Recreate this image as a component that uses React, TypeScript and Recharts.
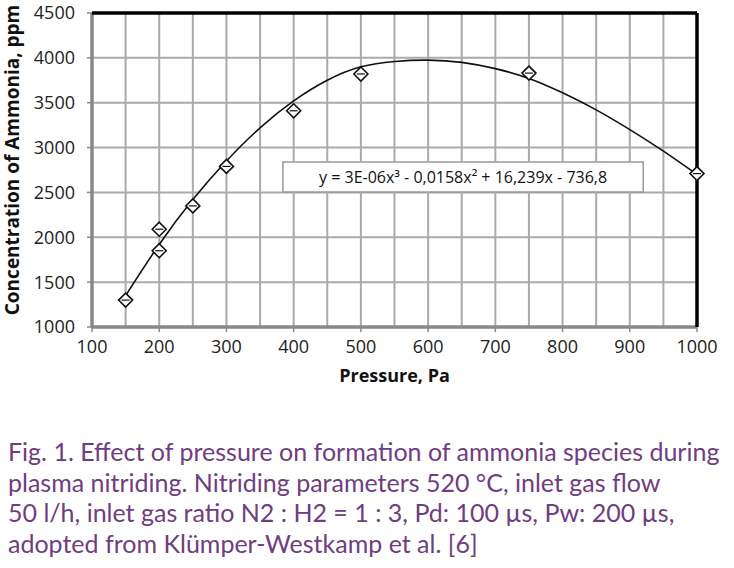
import {
  CartesianGrid,
  ComposedChart,
  Line,
  ReferenceArea,
  ReferenceLine,
  Scatter,
  XAxis,
  YAxis,
} from "recharts";

// measured points (Pa, ppm)
const pressure = [150, 200, 200, 250, 300, 400, 500, 750, 1000];
const ammonia = [1300, 1850, 2090, 2350, 2790, 3410, 3820, 3830, 2710];

// trendline
const trendPressure = [150, 200, 250, 300, 350, 400, 450, 500, 550, 600, 650, 700, 750, 800, 850, 900, 950, 1000];
const trendAmmonia = [1350, 1920, 2420, 2850, 3220, 3520, 3750, 3900, 3960, 3975, 3950, 3880, 3770, 3610, 3420, 3200, 2960, 2700];

const xTicks = [100, 200, 300, 400, 500, 600, 700, 800, 900, 1000];
const xGridValues = [150, 200, 250, 300, 350, 400, 450, 500, 550, 600, 650, 700, 750, 800, 850, 900, 950];
const yTicks = [1000, 1500, 2000, 2500, 3000, 3500, 4000, 4500];

// equation box corners (data units)
const boxX = [384, 920];
const boxY = [2505, 2840];

const equation = "y = 3E-06x³ - 0,0158x² + 16,239x - 736,8";
const caption = [
  "Fig. 1. Effect of pressure on formation of ammonia species during",
  "plasma nitriding. Nitriding parameters 520 °C, inlet gas flow",
  "50 l/h, inlet gas ratio N2 : H2 = 1 : 3, Pd: 100 µs, Pw: 200 µs,",
  "adopted from Klümper-Westkamp et al. [6]",
];

const points = pressure.map((x, i) => ({ x, y: ammonia[i] }));
const trend = trendPressure.map((x, i) => ({ x, y: trendAmmonia[i] }));

const tickFont = { fill: "#222", fontSize: 18, fontFamily: "Open Sans" };
const gridColor = "#aaaaaa";

// vertical grid lines, split around the equation box so it stays on top
function gridSegments(v: number) {
  if (v > boxX[0] && v < boxX[1]) {
    return [
      [{ x: v, y: 1000 }, { x: v, y: boxY[0] }],
      [{ x: v, y: boxY[1] }, { x: v, y: 4500 }],
    ];
  }
  return [[{ x: v, y: 1000 }, { x: v, y: 4500 }]];
}

function Diamond(props: any) {
  const { cx, cy } = props;
  const r = 7;
  return (
    <g>
      <path
        d={`M${cx},${cy - r} L${cx + r},${cy} L${cx},${cy + r} L${cx - r},${cy} Z`}
        fill="#fff"
        stroke="#111"
        strokeWidth={1.6}
      />
      <line x1={cx - 4} y1={cy} x2={cx + 4} y2={cy} stroke="#111" strokeWidth={1.2} />
    </g>
  );
}

export default function App() {
  return (
    <div style={{ position: "absolute", left: 0, top: 0, width: 734, height: 568, background: "#fff" }}>
      <ComposedChart
        width={734}
        height={400}
        margin={{ top: 13, right: 37, bottom: 33, left: 0 }}
      >
        <CartesianGrid vertical={false} stroke={gridColor} strokeWidth={2} />
        <XAxis
          type="number"
          dataKey="x"
          domain={[100, 1000]}
          ticks={xTicks}
          height={40}
          tick={tickFont}
          tickSize={5}
          tickMargin={8}
          axisLine={false}
          tickLine={{ stroke: "#888", strokeWidth: 1.5 }}
          label={{
            value: "Pressure, Pa",
            position: "bottom",
            offset: 2,
            fill: "#111",
            fontSize: 18,
            fontWeight: 700,
            fontFamily: "Open Sans",
          }}
        />
        <YAxis
          type="number"
          dataKey="y"
          domain={[1000, 4500]}
          ticks={yTicks}
          width={92}
          tick={tickFont}
          tickSize={5}
          tickMargin={12}
          axisLine={false}
          tickLine={{ stroke: "#888", strokeWidth: 1.5 }}
          label={{
            value: "Concentration of Ammonia, ppm",
            position: "center",
            angle: -90,
            dx: -34,
            dy: -10,
            fill: "#111",
            fontSize: 19,
            fontWeight: 700,
            fontFamily: "Open Sans",
          }}
        />
        {xGridValues.flatMap((v) =>
          gridSegments(v).map((seg, j) => (
            <ReferenceLine key={`gx${v}-${j}`} segment={seg} stroke={gridColor} strokeWidth={2} />
          ))
        )}
        <ReferenceLine x={100} stroke="#888" strokeWidth={3.5} />
        <ReferenceLine y={1000} stroke="#888" strokeWidth={3.5} />
        <ReferenceLine y={4500} stroke="#000" strokeWidth={3.5} />
        <ReferenceLine x={1000} stroke="#000" strokeWidth={3.5} />
        <ReferenceArea
          x1={boxX[0]}
          x2={boxX[1]}
          y1={boxY[0]}
          y2={boxY[1]}
          fill="#fff"
          fillOpacity={1}
          stroke="#999"
          strokeWidth={1.5}
          label={{
            value: equation,
            position: "center",
            fill: "#111",
            fontSize: 16,
            fontFamily: "Open Sans",
          }}
        />
        <Line
          data={trend}
          dataKey="y"
          type="natural"
          stroke="#111"
          strokeWidth={1.6}
          dot={false}
          activeDot={false}
          isAnimationActive={false}
        />
        <Scatter data={points} dataKey="y" shape={<Diamond />} isAnimationActive={false} />
      </ComposedChart>
      <div
        style={{
          position: "absolute",
          left: 8,
          top: 436,
          color: "#6f3d80",
          fontFamily: "Lato",
          fontSize: 25,
          lineHeight: "30.5px",
          whiteSpace: "nowrap",
        }}
      >
        {caption.map((line) => (
          <div key={line}>{line}</div>
        ))}
      </div>
    </div>
  );
}
